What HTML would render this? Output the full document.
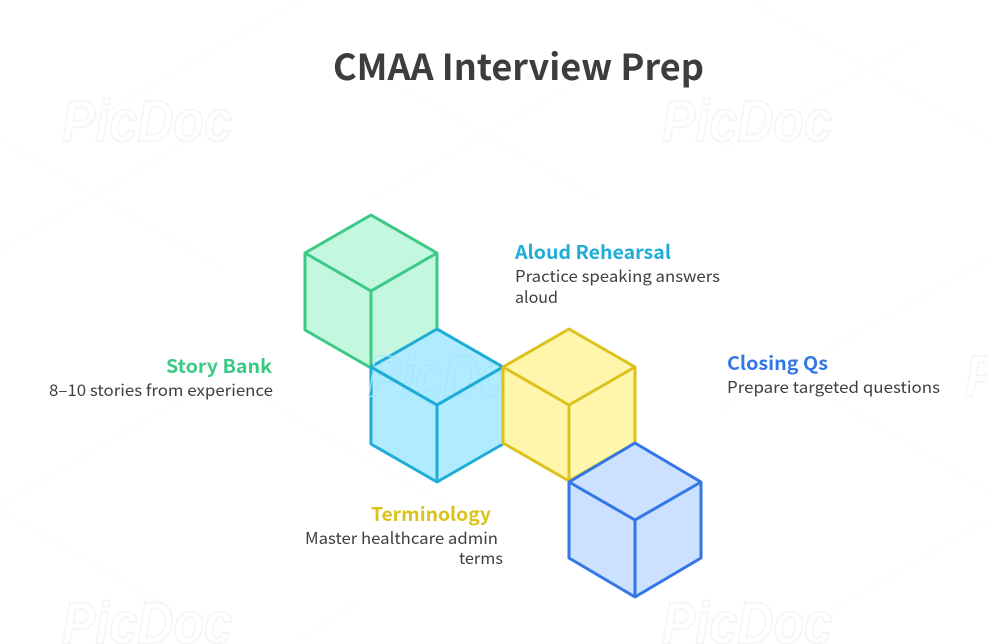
<!DOCTYPE html>
<html><head><meta charset="utf-8"><style>
html,body{margin:0;padding:0;background:#fff;width:987px;height:644px;overflow:hidden}
svg{display:block}
.wm{font:italic bold 58px "Liberation Sans",sans-serif;fill:none;stroke:#f5f5f5;stroke-width:1.8}
.h{font-family:"Noto Sans CJK SC","Liberation Sans",sans-serif;font-weight:700;font-size:19px}
.d{font-family:"Noto Sans CJK SC","Liberation Sans",sans-serif;font-weight:400;font-size:16px;fill:#3f3f3f}
</style></head><body>
<svg width="987" height="644" viewBox="0 0 987 644" xmlns="http://www.w3.org/2000/svg">
<rect width="987" height="644" fill="#fff"/>
<g stroke="#fbfbfb" stroke-width="1.2" fill="none">
<path d="M0 250L225 120M0 140L225 270M300 0L75 130M370 70L600 200M600 70L370 200M920 40L720 150M750 0L1000 145M240 365L0 505M230 380L480 525M770 380L720 410M800 380L987 490M987 260L800 365M0 510L225 640M300 640L360 600M680 600L720 625M987 520L780 640"/>
</g>
<g>
<text class="wm" x="62" y="141" textLength="170" lengthAdjust="spacingAndGlyphs">PicDoc</text>
<text class="wm" x="662" y="141" textLength="170" lengthAdjust="spacingAndGlyphs">PicDoc</text>
<text class="wm" x="62" y="643" textLength="170" lengthAdjust="spacingAndGlyphs">PicDoc</text>
<text class="wm" x="662" y="643" textLength="170" lengthAdjust="spacingAndGlyphs">PicDoc</text>
<text class="wm" x="965" y="396" textLength="170" lengthAdjust="spacingAndGlyphs">PicDoc</text>
</g>
<g stroke-width="3" stroke-linejoin="round">
<g fill="#c3f7df" stroke="#3cc985">
<path d="M371 215L437 253V330L371 368L305 330V253Z"/>
<path d="M305 253L371 291L437 253M371 291V368" fill="none"/>
</g>
<g fill="#b0ebff" stroke="#1fadd8">
<path d="M437 329L503 367V444L437 482L371 444V367Z"/>
<path d="M371 367L437 405L503 367M437 405V482" fill="none"/>
</g>
<text class="wm" x="368" y="396" textLength="170" lengthAdjust="spacingAndGlyphs" style="stroke:#a8e5fa;stroke-width:1.2">PicDoc</text>
<path d="M371 367L437 405L503 367M437 405V482M437 329L503 367" fill="none" stroke="#1fadd8"/>
<g fill="#fff5ab" stroke="#dcc31c">
<path d="M569 329L635 367V443L569 481L503 443V367Z"/>
<path d="M503 367L569 405L635 367M569 405V481" fill="none"/>
</g>
<g fill="#cce0ff" stroke="#3377e6">
<path d="M635 443L701 482V558L635 597L569 558V482Z"/>
<path d="M569 482L635 520L701 482M635 520V597" fill="none"/>
</g>
</g>
<text x="333" y="80" textLength="371" lengthAdjust="spacingAndGlyphs" style="font:700 36px 'Noto Sans CJK SC','Liberation Sans',sans-serif;fill:#3d3d3d">CMAA Interview Prep</text>
<text class="h" x="515" y="259" textLength="156" lengthAdjust="spacingAndGlyphs" fill="#1fadd8">Aloud Rehearsal</text>
<text class="d" x="515" y="282" textLength="205" lengthAdjust="spacingAndGlyphs">Practice speaking answers</text>
<text class="d" x="515" y="303" textLength="43" lengthAdjust="spacingAndGlyphs">aloud</text>
<text class="h" x="166" y="373" textLength="106" lengthAdjust="spacingAndGlyphs" fill="#3cc985">Story Bank</text>
<text class="d" x="49" y="396" textLength="224" lengthAdjust="spacingAndGlyphs">8–10 stories from experience</text>
<text class="h" x="727" y="370" textLength="101" lengthAdjust="spacingAndGlyphs" fill="#3377e6">Closing Qs</text>
<text class="d" x="727" y="393" textLength="213" lengthAdjust="spacingAndGlyphs">Prepare targeted questions</text>
<text class="h" x="371" y="521" textLength="120" lengthAdjust="spacingAndGlyphs" fill="#dcc31c">Terminology</text>
<text class="d" x="305" y="544" textLength="193" lengthAdjust="spacingAndGlyphs">Master healthcare admin</text>
<text class="d" x="459" y="564" textLength="44" lengthAdjust="spacingAndGlyphs">terms</text>
</svg>
</body></html>
